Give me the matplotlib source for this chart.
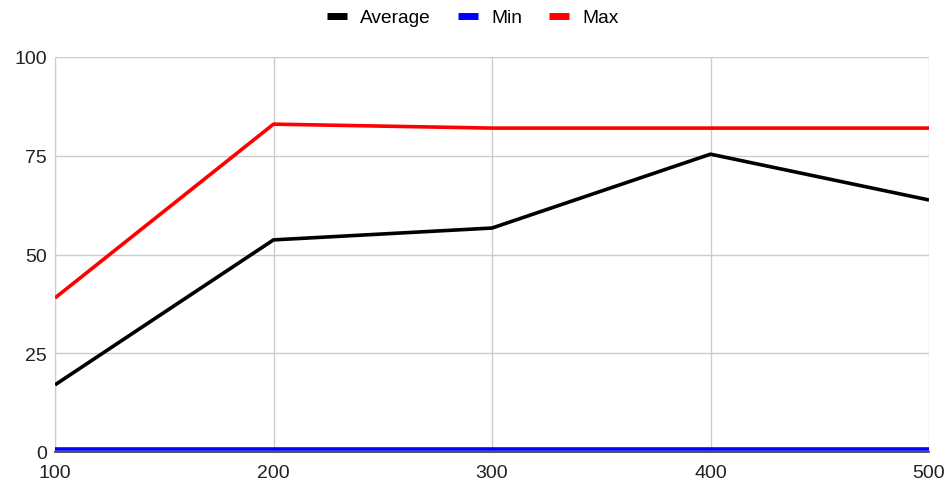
import matplotlib
matplotlib.use("Agg")
import matplotlib.pyplot as plt
from matplotlib.lines import Line2D

plt.rcParams['font.family'] = ['Liberation Sans', 'DejaVu Sans']

x_vals = [100, 200, 300, 400, 500]
average = [17.0, 53.7, 56.7, 75.4, 63.8]
minimum = [0.8, 0.8, 0.8, 0.8, 0.8]
maximum = [39.0, 83.0, 82.0, 82.0, 82.0]

series_names = ['Average', 'Min', 'Max']
colors = ['#000000', '#0000ff', '#ff0000']

fig = plt.figure(figsize=(9.46, 4.89), dpi=100)
ax = fig.add_axes([55 / 946, 36 / 489, 874 / 946, 395 / 489])

for vals, col in zip([average, minimum, maximum], colors):
    ax.plot(x_vals, vals, color=col, linewidth=2.6, solid_capstyle='butt', zorder=3)

ax.set_xlim(100, 500)
ax.set_ylim(0, 100)
ax.set_xticks(x_vals)
ax.set_yticks([0, 25, 50, 75, 100])
ax.grid(True, color='#cccccc', linewidth=1)
ax.set_axisbelow(True)

for side in ['top', 'right']:
    ax.spines[side].set_visible(False)
ax.spines['left'].set_color('#cccccc')
ax.spines['bottom'].set_color('#333333')
ax.spines['bottom'].set_linewidth(1.2)
ax.tick_params(length=0, labelsize=14, colors='#222222')
ax.tick_params(axis='y', pad=6)
ax.tick_params(axis='x', pad=9)

handles = [Line2D([0], [0], color=c, linewidth=5, solid_capstyle='butt') for c in colors]
fig.legend(handles, series_names, loc='upper center', bbox_to_anchor=(0.5, 1.015),
           ncol=3, frameon=False, fontsize=13.8, handlelength=1.05, columnspacing=1.4,
           handletextpad=0.7)

fig.savefig('out.png', dpi=100)
